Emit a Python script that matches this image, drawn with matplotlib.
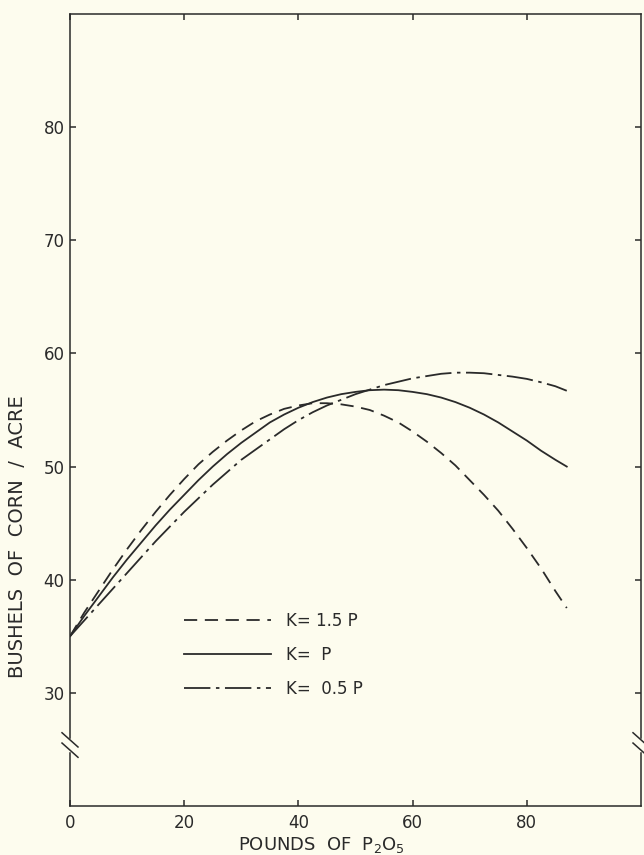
import numpy as np
import matplotlib
matplotlib.use("Agg")
from matplotlib import pyplot as plt

# values (bushels of corn per acre vs. pounds of P2O5)
p2o5 = [0, 2.5, 5, 7.5, 10, 12.5, 15, 17.5, 20, 22.5, 25, 27.5, 30, 32.5,
        35, 37.5, 40, 42.5, 45, 47.5, 50, 52.5, 55, 57.5, 60, 62.5, 65,
        67.5, 70, 72.5, 75, 77.5, 80, 82.5, 85, 87]
k_15p = [35.0, 37.1, 39.0, 40.9, 42.7, 44.4, 46.0, 47.5, 48.9, 50.2, 51.3,
         52.3, 53.2, 54.0, 54.6, 55.1, 55.4, 55.6, 55.6, 55.5, 55.3, 55.0,
         54.5, 53.9, 53.1, 52.2, 51.2, 50.1, 48.8, 47.5, 46.1, 44.5, 42.8,
         41.0, 39.0, 37.5]
k_p = [35.0, 36.8, 38.5, 40.2, 41.8, 43.3, 44.8, 46.2, 47.5, 48.8, 50.0,
       51.1, 52.1, 53.0, 53.9, 54.6, 55.2, 55.7, 56.1, 56.4, 56.6, 56.75,
       56.8, 56.75, 56.6, 56.4, 56.1, 55.7, 55.2, 54.6, 53.9, 53.1, 52.3,
       51.4, 50.6, 50.0]
k_05p = [35.0, 36.4, 37.8, 39.2, 40.6, 42.0, 43.4, 44.7, 46.0, 47.2, 48.4,
         49.5, 50.6, 51.5, 52.4, 53.3, 54.1, 54.8, 55.4, 55.9, 56.4, 56.8,
         57.2, 57.5, 57.8, 58.0, 58.2, 58.3, 58.3, 58.25, 58.1, 57.95, 57.75,
         57.45, 57.1, 56.7]

labels = ["K= 1.5 P", "K=  P", "K=  0.5 P"]
xticks = [0, 20, 40, 60, 80]
yticks = [30, 40, 50, 60, 70, 80]

plt.rcParams['font.family'] = ['DejaVu Sans']
plt.rcParams['mathtext.default'] = 'regular'
plt.rcParams['lines.scale_dashes'] = False

bg = '#fdfcee'
ink = '#2a2a2a'

fig = plt.figure(figsize=(6.44, 8.55), dpi=100, facecolor=bg)
ax = fig.add_axes([70 / 644, 1 - 806 / 855, 571 / 644, 792 / 855], facecolor=bg)

lw = 1.3
ax.plot(p2o5, k_15p, color=ink, lw=lw, dashes=(9.5, 5.5), label=labels[0])
ax.plot(p2o5, k_p, color=ink, lw=lw, label=labels[1])
ax.plot(p2o5, k_05p, color=ink, lw=lw, dashes=(19, 4, 2.5, 4), label=labels[2])

ax.set_xlim(0, 100)
ax.set_ylim(20, 90)
ax.set_xticks(xticks)
ax.set_yticks(yticks)
ax.tick_params(direction='in', top=True, right=True, length=4, width=1.1,
               colors=ink, labelsize=12, labeltop=False, labelright=False)
ax.tick_params(axis='x', pad=6)
ax.tick_params(axis='y', pad=4)
for s in ax.spines.values():
    s.set_linewidth(1.1)
    s.set_color(ink)

ax.set_xlabel('POUNDS  OF  P$_{2}$O$_{5}$', fontsize=13, color=ink, labelpad=4)
ax.xaxis.set_label_coords(0.44, -0.037)
ax.set_ylabel('BUSHELS  OF  CORN  /  ACRE', fontsize=14, color=ink)
ax.yaxis.set_label_coords(-0.075, 0.34)

# axis break marks on both vertical spines
yb = 0.077
for xs in (0, 1):
    ax.plot([xs, xs], [yb - 0.006, yb + 0.006], color=bg, lw=2.5,
            transform=ax.transAxes, clip_on=False, zorder=5)
    for off in (-0.0065, 0.0065):
        ax.plot([xs - 0.014, xs + 0.014], [yb + off + 0.009, yb + off - 0.009],
                color=ink, lw=1.1, transform=ax.transAxes, clip_on=False, zorder=6)

leg = ax.legend(loc='upper left', bbox_to_anchor=(0.2, 0.245), frameon=False,
                fontsize=12, handlelength=5.2, handletextpad=0.9,
                labelspacing=0.95, borderpad=0, borderaxespad=0)
for t in leg.get_texts():
    t.set_color(ink)

fig.savefig('out.png', dpi=100, facecolor=bg)
